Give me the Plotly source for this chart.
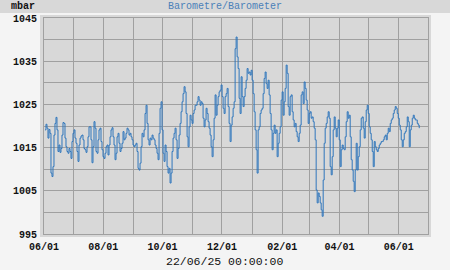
import pandas as pd
import plotly.graph_objects as go

# Pressure readings (mbar), in time order
pressure_jun_oct = [
    1019.1, 1020.4, 1019.5, 1017.2, 1019.2, 1018.3, 1009.1, 1008.3, 1010.6, 1017.9,
    1020.6, 1022.0, 1019.1, 1014.1, 1015.6, 1013.9, 1014.8, 1017.9, 1020.8, 1020.6,
    1017.2, 1015.2, 1014.1, 1013.7, 1014.8, 1014.1, 1012.5, 1016.4, 1018.3, 1019.1,
    1017.2, 1016.0, 1014.1, 1011.8, 1015.6, 1017.2, 1017.7, 1017.9, 1016.8, 1014.8,
    1014.5, 1013.9, 1015.2, 1017.5, 1019.8, 1019.8, 1016.8, 1011.5, 1015.2, 1021.0,
    1019.5, 1014.1, 1013.7, 1016.8, 1019.1, 1019.5, 1016.4, 1014.5, 1012.9, 1012.5,
    1013.7, 1015.2, 1015.6, 1013.3, 1015.6, 1017.5, 1019.1, 1019.6, 1017.5, 1015.6,
    1012.2, 1013.7, 1017.5, 1018.3, 1016.0, 1014.1, 1014.8, 1016.0, 1018.7, 1016.8,
    1017.2, 1018.3, 1019.5, 1019.1, 1017.9, 1018.3, 1017.5, 1016.8, 1015.6, 1015.2,
    1015.6, 1016.0, 1014.1, 1010.2, 1009.8, 1011.4, 1015.2, 1018.3, 1017.5, 1019.1,
    1022.9, 1024.8, 1020.6, 1016.8, 1015.6, 1017.2, 1016.8, 1017.9, 1017.2, 1016.8,
    1015.6, 1014.8, 1013.7, 1012.2, 1018.3, 1024.1, 1025.6, 1019.1, 1013.7, 1011.8,
    1015.6, 1014.1, 1010.6, 1009.1, 1010.2,
]
pressure_oct_feb = [
    1006.8, 1009.1, 1014.1, 1017.2, 1018.3, 1019.5, 1016.8, 1012.5, 1014.8, 1017.9,
    1020.6, 1023.3, 1025.6, 1027.5, 1029.1, 1027.9, 1022.9, 1017.5, 1015.2, 1019.8,
    1022.5, 1021.4, 1020.6, 1022.9, 1023.7, 1024.8, 1024.8, 1025.6, 1026.8, 1026.0,
    1024.8, 1025.6, 1025.2, 1021.8, 1019.8, 1021.4, 1024.1, 1022.9, 1021.0, 1019.5,
    1017.9, 1015.2, 1012.9, 1016.8, 1021.8, 1027.2, 1022.5, 1024.8, 1026.8, 1027.9,
    1028.3, 1029.5, 1026.8, 1024.1, 1022.9, 1026.8, 1027.5, 1028.7, 1024.5, 1020.6,
    1016.4, 1020.2, 1022.1, 1024.1, 1025.6, 1037.9, 1040.6, 1036.0, 1033.3, 1026.4,
    1022.9, 1031.4, 1026.8, 1024.5, 1026.8, 1028.7, 1030.6, 1033.3, 1032.2, 1032.5,
    1031.8, 1032.9, 1030.6, 1027.5, 1023.3, 1019.1, 1014.5, 1009.1, 1019.1, 1019.8,
    1022.9, 1023.7, 1024.1, 1027.5, 1031.0, 1032.5, 1029.8, 1028.7, 1030.6, 1027.2,
    1022.9, 1019.1, 1014.5, 1018.3, 1020.2, 1018.3, 1019.1, 1012.9, 1016.0, 1018.3,
    1019.8, 1026.0, 1027.9, 1022.5, 1025.6, 1028.7, 1034.1, 1032.2, 1024.5, 1022.5,
    1026.8, 1027.2, 1023.3, 1021.4, 1019.8, 1020.6, 1018.7, 1017.5, 1016.4,
]
pressure_feb_jun = [
    1018.3, 1020.2, 1027.2, 1027.9, 1025.2, 1030.2, 1028.7, 1026.0, 1023.7, 1020.6,
    1022.9, 1023.3, 1021.8, 1022.1, 1021.0, 1019.5, 1016.8, 1005.2, 1002.2, 1004.5,
    1003.7, 1002.2, 1000.6, 999.1, 1007.5, 1016.0, 1019.5, 1020.6, 1022.1, 1023.3,
    1021.8, 1010.6, 1008.7, 1012.9, 1019.1, 1022.1, 1019.5, 1017.5, 1019.5, 1021.4,
    1016.8, 1010.6, 1014.5, 1015.6, 1014.8, 1014.5, 1017.5, 1021.0, 1023.3, 1021.8,
    1022.5, 1017.5, 1012.2, 1009.8, 1007.2, 1004.8, 1009.8, 1016.0, 1009.8, 1012.9,
    1015.2, 1019.1, 1021.8, 1022.1, 1019.5, 1017.2, 1021.0, 1023.7, 1024.8, 1022.9,
    1019.8, 1018.3, 1016.8, 1014.1, 1010.6, 1016.4, 1015.2, 1014.5, 1014.1, 1014.8,
    1015.6, 1016.0, 1016.4, 1016.4, 1016.8, 1017.5, 1017.9, 1016.8, 1018.3, 1019.5,
    1018.7, 1020.6, 1021.4, 1021.8, 1022.9, 1023.7, 1024.5, 1024.1, 1022.9, 1021.8,
    1020.2, 1019.1, 1016.8, 1015.2, 1016.8, 1018.3, 1018.7, 1019.8, 1022.1, 1021.0,
    1015.2, 1019.1, 1020.2, 1021.8, 1022.5, 1021.8, 1021.4, 1021.4, 1020.6, 1020.2,
    1019.5,
]
pressure = pressure_jun_oct + pressure_oct_feb + pressure_feb_jun

series_start = "2024-06-02"
series_end = "2025-06-22"
x_range = ["2024-06-01", "2025-07-01"]
y_range = [995, 1045]

title_text = "Barometre/Barometer"
unit_text = "mbar"
footer_text = "22/06/25 00:00:00"

times = pd.date_range(series_start, series_end, periods=len(pressure))

W, H = 450, 270
ML, MR, MT, MB = 44, 22, 18, 36
PW, PH = W - ML - MR, H - MT - MB

GRID = "#a0a0a0"
PANEL = "#d8d8d8"
PAGE = "#f4f4f4"
FONT = "Liberation Mono"

fig = go.Figure()
fig.add_trace(go.Scatter(
    x=times, y=pressure, mode="lines",
    line=dict(color="#2f76bc", width=1, shape="hv"),
    hoverinfo="skip", showlegend=False,
))

def px_x(p):
    return (p - ML) / PW

def px_y(p):
    return 1 - (p - MT) / PH

shapes = [
    # light frame around grid area
    dict(type="rect", xref="paper", yref="paper", layer="below",
         x0=px_x(40), x1=px_x(431), y0=px_y(237), y1=px_y(15),
         fillcolor=PANEL, line=dict(width=0)),
    # header band
    dict(type="rect", xref="paper", yref="paper", layer="below",
         x0=px_x(0), x1=px_x(W), y0=px_y(13), y1=px_y(0),
         fillcolor=PANEL, line=dict(width=0)),
]

annotations = [
    dict(text=unit_text, xref="paper", yref="paper", x=px_x(9), y=px_y(6.5),
         xanchor="left", yanchor="middle", showarrow=False,
         font=dict(family=FONT, size=10, color="#111111", weight="bold")),
    dict(text=title_text, xref="paper", yref="paper", x=px_x(225), y=px_y(6.5),
         xanchor="center", yanchor="middle", showarrow=False,
         font=dict(family=FONT, size=10, color="#4a80b8")),
    dict(text=footer_text, xref="paper", yref="paper", x=px_x(224), y=px_y(261),
         xanchor="center", yanchor="middle", showarrow=False,
         font=dict(family=FONT, size=11.5, color="#111111")),
]

tickfont = dict(family=FONT, size=10, color="#111111", weight="bold")

fig.update_layout(
    width=W, height=H,
    margin=dict(l=ML, r=MR, t=MT, b=MB, pad=0),
    paper_bgcolor=PAGE, plot_bgcolor=PANEL,
    shapes=shapes, annotations=annotations,
    font=dict(family=FONT, size=10, color="#111111"),
    xaxis=dict(
        type="date", range=x_range, tick0="2024-06-01", dtick="M2",
        tickformat="%m/%d", showgrid=True, gridcolor=GRID, gridwidth=1,
        minor=dict(dtick="M1", showgrid=True, gridcolor=GRID, gridwidth=1),
        showline=True, mirror=True, linecolor=GRID, linewidth=1,
        ticks="outside", ticklen=3, tickcolor="rgba(0,0,0,0)",
        zeroline=False, fixedrange=True, tickfont=tickfont,
    ),
    yaxis=dict(
        range=y_range, tick0=995, dtick=10,
        showgrid=True, gridcolor=GRID, gridwidth=1,
        minor=dict(dtick=5, showgrid=True, gridcolor=GRID, gridwidth=1),
        showline=True, mirror=True, linecolor=GRID, linewidth=1,
        ticks="outside", ticklen=4, tickcolor="rgba(0,0,0,0)",
        zeroline=False, fixedrange=True, tickfont=tickfont,
    ),
)

fig.write_html("out.html")
